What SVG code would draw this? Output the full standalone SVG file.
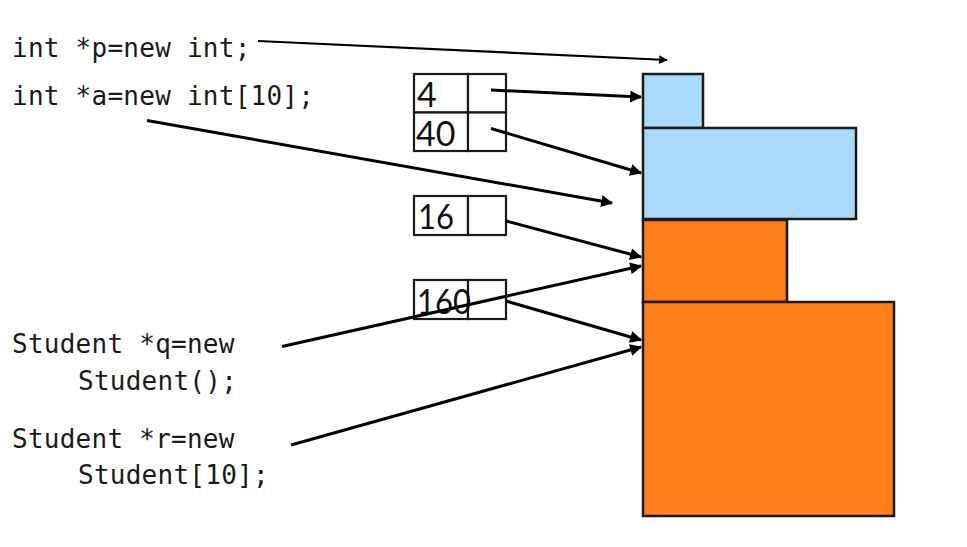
<svg xmlns="http://www.w3.org/2000/svg" width="967" height="547" viewBox="0 0 967 547">
<defs>
<style>
.code{font-family:"DejaVu Sans Mono","Liberation Mono",monospace;font-size:26px;letter-spacing:0.25px;fill:#1a1a1a}
.num{font-family:"Lato","Liberation Sans",sans-serif;font-size:34px;fill:#111}
.cell{fill:#fff;stroke:#1a1a1a;stroke-width:2.2}
.blue{fill:#aad9fb;stroke:#1a1a1a;stroke-width:2.5}
.orange{fill:#fd7f1b;stroke:#1a1a1a;stroke-width:2.5}
.conn line{stroke:#000;stroke-width:3;marker-end:url(#ah)}
</style>
<marker id="ah" viewBox="0 0 10 10" refX="9" refY="5" markerWidth="5" markerHeight="4" markerUnits="strokeWidth" orient="auto">
<path d="M0,0 L10,5 L0,10 Z" fill="#000"/>
</marker>
</defs>
<rect width="967" height="547" fill="#fff"/>

<g id="code">
<text class="code" x="12" y="57">int *p=new int;</text>
<text class="code" x="12" y="105">int *a=new int[10];</text>
<text class="code" x="12" y="353">Student *q=new</text>
<text class="code" x="78" y="390">Student();</text>
<text class="code" x="12" y="448">Student *r=new</text>
<text class="code" x="78" y="484">Student[10];</text>
</g>

<g id="heap">
<rect id="blk-p" class="blue" x="643" y="74" width="60" height="54"/>
<rect id="blk-a" class="blue" x="643" y="128" width="213" height="91"/>
<rect id="blk-q" class="orange" x="643" y="220" width="144" height="82"/>
<rect id="blk-r" class="orange" x="643" y="302" width="251" height="214"/>
</g>

<g id="hdr4">
<rect class="cell" x="414" y="74" width="54" height="38.5"/>
<rect class="cell" x="468" y="74" width="38" height="38.5"/>
<text class="num" x="417" y="107">4</text>
</g>
<g id="hdr40">
<rect class="cell" x="414" y="112.5" width="54" height="38.5"/>
<rect class="cell" x="468" y="112.5" width="38" height="38.5"/>
<text class="num" x="416" y="146">40</text>
</g>
<g id="hdr16">
<rect class="cell" x="414" y="196" width="54" height="39"/>
<rect class="cell" x="468" y="196" width="38" height="39"/>
<text class="num" x="418" y="229" textLength="36" lengthAdjust="spacingAndGlyphs">16</text>
</g>
<g id="hdr160">
<rect class="cell" x="414" y="280" width="54" height="39"/>
<rect class="cell" x="468" y="280" width="38" height="39"/>
<text class="num" x="417" y="314" textLength="54" lengthAdjust="spacingAndGlyphs">160</text>
</g>

<g id="connectors" class="conn">
<line x1="258" y1="41" x2="667" y2="60" style="stroke-width:2.2"/>
<line x1="147" y1="120.5" x2="612" y2="203"/>
<line x1="491" y1="90" x2="641" y2="97"/>
<line x1="491" y1="128.5" x2="641" y2="173"/>
<line x1="506" y1="221" x2="641" y2="257"/>
<line x1="282" y1="346.5" x2="641" y2="266"/>
<line x1="506" y1="301" x2="641" y2="340"/>
<line x1="291" y1="445" x2="641" y2="347"/>
</g>
</svg>
